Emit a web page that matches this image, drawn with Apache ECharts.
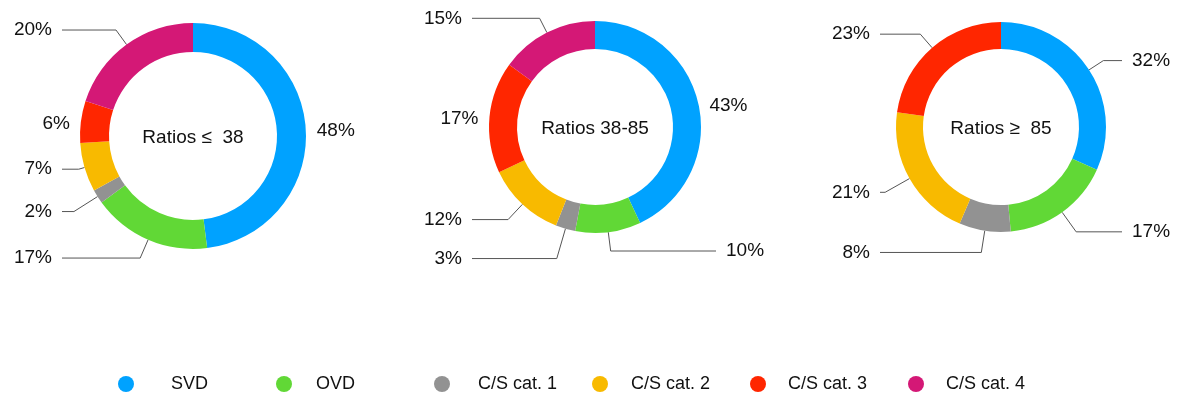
<!DOCTYPE html>
<html>
<head>
<meta charset="utf-8">
<script src="https://cdn.jsdelivr.net/npm/echarts@6/dist/echarts.min.js"></script>
<style>
  html, body { margin: 0; padding: 0; background: #ffffff; }
  #chart { width: 1181px; height: 400px; }
</style>
</head>
<body>
<div id="chart"></div>
<script>
// Categories shared by the three rings (legend order)
const categories = ['SVD', 'OVD', 'C/S cat. 1', 'C/S cat. 2', 'C/S cat. 3', 'C/S cat. 4'];
const groupTitles = ['Ratios \u2264  38', 'Ratios 38-85', 'Ratios \u2265  85'];

// Share of each category (percent) per ratio group; null = no slice
const shareLow  = [48, 17, 2, 7, 6, 20];
const shareMid  = [43, 10, 3, 12, 17, 15];
const shareHigh = [32, 17, 8, 21, 23, null];

const palette = ['#00A2FF', '#61D836', '#929292', '#F8BA00', '#FF2600', '#D41876'];
const FONT = '"Liberation Sans", Arial, Helvetica, sans-serif';
const LABEL_GAP = 10;

// Ring geometry and leader-line styling per group.
// leaders: radial length of each leader; null = label beside the ring, no line.
// lineEnd: x where the horizontal leader segments stop on the left / right side.
const rings = [
  { center: [193, 136], radius: [84, 113],
    leaders: [null, 20, 28, 6, null, 18], lineEnd: [62, null] },
  { center: [595, 127], radius: [78, 106],
    leaders: [null, 19, 31, 21, null, 16], lineEnd: [472, 716] },
  { center: [1001, 127], radius: [78, 105],
    leaders: [17, 24, 22, 28, 18, null], lineEnd: [880, 1122] }
];
const groups = [shareLow, shareMid, shareHigh];

function buildSeries(values, ring, idx) {
  const data = [];
  const hasLine = [];
  values.forEach((v, i) => {
    if (v == null) return;
    const len = ring.leaders[i];
    const item = { name: categories[i], value: v, itemStyle: { color: palette[i] } };
    if (len != null) {
      item.labelLine = { show: true, length: len, length2: 8 };
    } else {
      item.labelLine = { show: false, length: 0, length2: 0 };
      item.label = { distanceToLabelLine: 11 };
    }
    hasLine.push(len != null);
    data.push(item);
  });
  return {
    type: 'pie',
    name: groupTitles[idx],
    center: ring.center,
    radius: ring.radius,
    startAngle: 90,
    clockwise: true,
    avoidLabelOverlap: true,
    itemStyle: { borderWidth: 0 },
    emphasis: { disabled: true },
    label: {
      show: true,
      position: 'outside',
      distanceToLabelLine: LABEL_GAP,
      formatter: '{c}%',
      color: '#111111',
      fontSize: 19,
      fontFamily: FONT
    },
    labelLine: {
      show: true,
      smooth: false,
      lineStyle: { color: '#555555', width: 1 }
    },
    // Stretch the horizontal leader segments so that each side ends on one column
    labelLayout: function (p) {
      const pts = p.labelLinePoints;
      if (!pts || !hasLine[p.dataIndex]) return { dy: 2 };
      const isLeft = pts[2][0] < ring.center[0];
      const endX = isLeft ? ring.lineEnd[0] : ring.lineEnd[1];
      if (endX == null) return {};
      const newPts = pts.map(pt => pt.slice());
      newPts[2][0] = endX;
      return {
        x: isLeft ? endX - LABEL_GAP : endX + LABEL_GAP,
        y: newPts[2][1],
        align: isLeft ? 'right' : 'left',
        verticalAlign: 'middle',
        labelLinePoints: newPts
      };
    },
    data: data
  };
}

const series = groups.map((vals, i) => buildSeries(vals, rings[i], i));

// Legend text offsets so the dots sit on an even pitch
const legendPad = [32, 19, 23, 18, 17, 17];
const legendData = categories.map((name, i) => ({
  name: name,
  icon: 'circle',
  itemStyle: { color: palette[i] },
  textStyle: { padding: [0, 0, 0, legendPad[i]], width: 127 - legendPad[i] }
}));

const option = {
  animation: false,
  backgroundColor: '#ffffff',
  legend: {
    left: 113,
    top: 369,
    orient: 'horizontal',
    itemWidth: 16,
    itemHeight: 16,
    itemGap: 10,
    selectedMode: false,
    data: legendData,
    textStyle: { fontSize: 18, color: '#111111', fontFamily: FONT, lineHeight: 20 }
  },
  graphic: rings.map((ring, i) => ({
    type: 'text',
    x: ring.center[0],
    y: ring.center[1] + 2,
    style: {
      text: groupTitles[i],
      fill: '#111111',
      font: '19px ' + FONT,
      textAlign: 'center',
      textVerticalAlign: 'middle'
    }
  })),
  series: series
};

const chart = echarts.init(document.getElementById('chart'), null, { renderer: 'canvas' });
chart.setOption(option);
</script>
</body>
</html>
